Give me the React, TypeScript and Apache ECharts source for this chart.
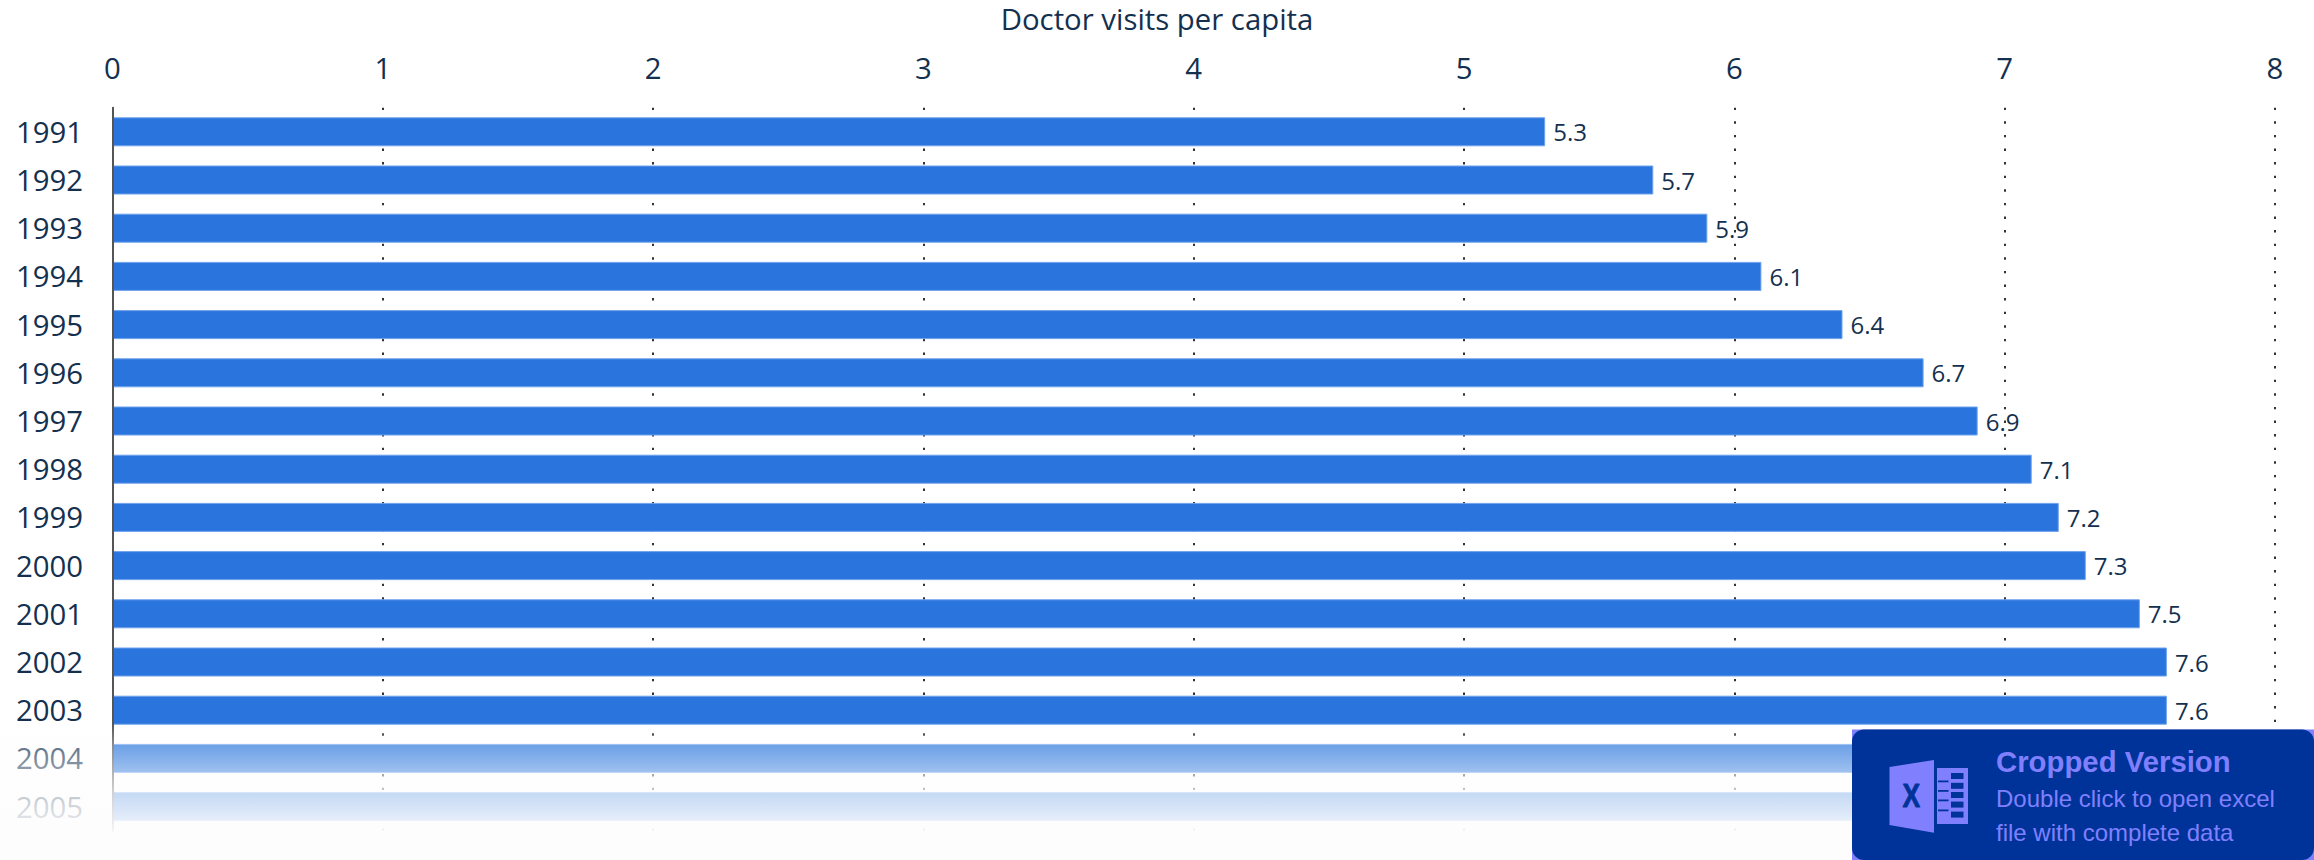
import React, { useEffect, useRef } from "react";
import * as echarts from "echarts";

const years = ["1991","1992","1993","1994","1995","1996","1997","1998","1999","2000","2001","2002","2003","2004","2005"];
const visits = [5.3,5.7,5.9,6.1,6.4,6.7,6.9,7.1,7.2,7.3,7.5,7.6,7.6,7.7,7.8];
const hiddenLabelYears = ["2004", "2005"];
const xTicks = { min: 0, max: 8, interval: 1 };
const chartTitle = "Doctor visits per capita";
const badgeTitle = "Cropped Version";
const badgeLines = ["Double click to open excel", "file with complete data"];

const TEXT = "#14304f";
const FONT = "'Open Sans'";
const NAVY = "#003399";
const LILAC = "#8080ff";

function sheetCells() {
  const cells: any[] = [];
  const tops = [773, 782.8, 792, 801.6, 811.6];
  tops.forEach((y) => {
    cells.push({ type: "rect", z: 103, shape: { x: 1951, y, width: 12.5, height: 6 }, style: { fill: NAVY } });
  });
  [780.5, 790, 799.5, 809.5].forEach((y) => {
    cells.push({ type: "rect", z: 103, shape: { x: 1938, y, width: 10.5, height: 1.8 }, style: { fill: NAVY } });
  });
  return cells;
}

export default function App() {
  const ref = useRef<HTMLDivElement>(null);
  useEffect(() => {
    document.body.style.margin = "0";
    document.body.style.background = "#fff";
    const chart = echarts.init(ref.current!, undefined, { renderer: "svg" });
    chart.setOption({
      animation: false,
      backgroundColor: "#ffffff",
      title: {
        text: chartTitle,
        left: "center",
        top: -1,
        textStyle: { fontFamily: FONT, fontSize: 29.33, fontWeight: 400, color: TEXT },
      },
      grid: { left: 112.5, right: 39, top: 107.7, height: 723, containLabel: false },
      xAxis: {
        type: "value",
        position: "top",
        ...xTicks,
        axisLine: { show: false },
        axisTick: { show: false },
        axisLabel: { fontFamily: FONT, fontSize: 29.33, color: TEXT, margin: 25 },
        splitLine: { show: true, lineStyle: { color: "#333", width: 2, type: [2.4, 11.2] } },
      },
      yAxis: {
        type: "category",
        inverse: true,
        z: 5,
        data: years,
        axisLine: { show: true, lineStyle: { color: "#555", width: 2 } },
        axisTick: { show: false },
        axisLabel: { fontFamily: FONT, fontSize: 29.33, color: TEXT, margin: 29.5, padding: [0, 0, 2, 0] },
      },
      series: [{
        type: "bar",
        data: visits.map((value, i) => ({
          value,
          label: { show: !hiddenLabelYears.includes(years[i]) },
        })),
        barWidth: 29,
        itemStyle: { color: "#2975dd", borderColor: "#6fa2ec", borderWidth: 1 },
        label: { show: true, position: "right", distance: 8, fontFamily: FONT, fontSize: 24, color: TEXT, padding: [0, 0, 1, 0] },
        z: 3,
      }],
      graphic: [
        {
          type: "rect", z: 100, silent: true,
          shape: { x: 0, y: 724, width: 2314, height: 136 },
          style: {
            fill: new echarts.graphic.LinearGradient(0, 0, 0, 1, [
              { offset: 0, color: "rgba(253,253,253,0)" },
              { offset: 0.14, color: "rgba(253,253,253,0.3)" },
              { offset: 0.353, color: "rgba(253,253,253,0.55)" },
              { offset: 0.5, color: "rgba(253,253,253,0.73)" },
              { offset: 0.713, color: "rgba(253,253,253,0.89)" },
              { offset: 0.853, color: "rgba(253,253,253,1)" },
              { offset: 1, color: "rgba(253,253,253,1)" },
            ]),
          },
        },
        { type: "rect", z: 101, shape: { x: 1852, y: 729.5, width: 462, height: 130.5 }, style: { fill: LILAC } },
        { type: "rect", z: 102, shape: { x: 1852, y: 729.5, width: 462, height: 130.5, r: 12 }, style: { fill: NAVY } },
        { type: "polygon", z: 103, shape: { points: [[1889.5, 767], [1934, 760], [1934, 832.7], [1889.5, 825]] }, style: { fill: LILAC } },
        { type: "rect", z: 103, shape: { x: 1937, y: 768, width: 31, height: 56 }, style: { fill: LILAC } },
        ...sheetCells(),
        { type: "text", z: 104, x: 1911.3, y: 795.5, scaleX: 0.8, style: { text: "X", fontFamily: "'Liberation Sans'", fontWeight: 700, fontSize: 33, fill: NAVY, stroke: NAVY, lineWidth: 1, align: "center", verticalAlign: "middle" } },
        { type: "text", z: 104, x: 1996, y: 761, style: { text: badgeTitle, fontFamily: "'Liberation Sans'", fontWeight: 700, fontSize: 29.33, fill: LILAC, verticalAlign: "middle" } },
        { type: "text", z: 104, x: 1996, y: 798, style: { text: badgeLines[0], fontFamily: "'Liberation Sans'", fontSize: 24, fill: LILAC, verticalAlign: "middle" } },
        { type: "text", z: 104, x: 1996, y: 832, style: { text: badgeLines[1], fontFamily: "'Liberation Sans'", fontSize: 24, fill: LILAC, verticalAlign: "middle" } },
      ],
    });
    return () => chart.dispose();
  }, []);
  return <div ref={ref} style={{ width: 2314, height: 860 }} />;
}
